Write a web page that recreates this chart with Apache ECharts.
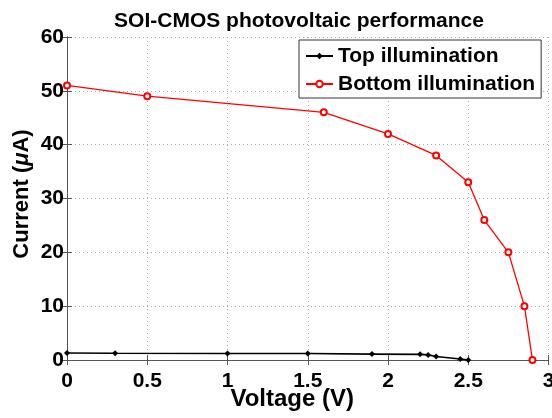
<!DOCTYPE html>
<html>
<head>
<meta charset="utf-8">
<script src="https://cdn.jsdelivr.net/npm/echarts@6/dist/echarts.min.js"></script>
<style>
  html, body { margin: 0; padding: 0; background: #fff; }
  #chart { width: 552px; height: 418px; }
</style>
</head>
<body>
<div id="chart"></div>
<script>
// voltage (V) / current (uA)
var topVoltage = [0, 0.3, 1.0, 1.5, 1.9, 2.2, 2.25, 2.3, 2.45, 2.5];
var topCurrent = [1.3, 1.25, 1.2, 1.2, 1.1, 1.05, 0.95, 0.65, 0.2, 0];
var bottomVoltage = [0, 0.5, 1.6, 2.0, 2.3, 2.5, 2.6, 2.75, 2.85, 2.9];
var bottomCurrent = [51, 49, 46, 42, 38, 33, 26, 20, 10, 0];

function pairs(xs, ys) {
  return xs.map(function (x, i) { return [x, ys[i]]; });
}

var chart = echarts.init(document.getElementById('chart'));
var font = 'Liberation Sans, Arial, sans-serif';
var gridLine = { show: true, lineStyle: { color: '#aaa', type: [1, 3], width: 1 } };
var boxAxis = { show: true, lineStyle: { color: '#555', width: 1 } };
var inTick = { inside: true, length: 5, lineStyle: { color: '#555' } };

chart.setOption({
  backgroundColor: '#fff',
  animation: false,
  title: {
    text: 'SOI-CMOS photovoltaic performance',
    left: 294, top: 6, textAlign: 'center',
    textStyle: { fontFamily: font, fontWeight: 'bold', fontSize: 21, color: '#000' }
  },
  legend: {
    left: 299, top: 40,
    orient: 'vertical',
    itemWidth: 27, itemHeight: 8, itemGap: 6,
    padding: [5, 6, 3, 6],
    borderColor: '#333', borderWidth: 1,
    backgroundColor: '#fff',
    textStyle: { fontFamily: font, fontSize: 21, lineHeight: 22, fontWeight: 'bold', color: '#000' },
    data: ['Top illumination', 'Bottom illumination']
  },
  grid: { left: 67, top: 37, right: 3.5, bottom: 58, containLabel: false, outerBoundsMode: 'none' },
  xAxis: [{
    type: 'value', min: 0, max: 3, interval: 0.5,
    name: 'Voltage (V)', nameLocation: 'middle', nameGap: 27, nameMoveOverlap: false,
    nameTextStyle: { fontFamily: font, fontWeight: 'bold', fontSize: 24, color: '#000', padding: [0, 31, 0, 0] },
    axisLine: boxAxis,
    axisTick: inTick,
    axisLabel: { fontFamily: font, fontWeight: 'bold', fontSize: 21, color: '#000', margin: 11 },
    splitLine: gridLine
  }, {
    type: 'value', position: 'top', min: 0, max: 3, interval: 0.5,
    axisLine: boxAxis,
    axisTick: inTick,
    axisLabel: { show: false }, splitLine: { show: false }
  }],
  yAxis: [{
    type: 'value', min: 0, max: 60, interval: 10,
    name: '{a|Current (}{b|μ}{a|A)}', nameLocation: 'middle', nameGap: 34, nameMoveOverlap: false,
    nameTextStyle: {
      padding: [0, 0, 0, 9],
      rich: {
        a: { fontFamily: font, fontWeight: 'bold', fontSize: 22, color: '#000' },
        b: { fontFamily: font, fontWeight: 'bold', fontStyle: 'italic', fontSize: 22, color: '#000' }
      }
    },
    axisLine: boxAxis,
    axisTick: inTick,
    axisLabel: { fontFamily: font, fontWeight: 'bold', fontSize: 21, color: '#000', margin: 3 },
    splitLine: gridLine
  }, {
    type: 'value', position: 'right', min: 0, max: 60, interval: 10,
    axisLine: boxAxis,
    axisTick: inTick,
    axisLabel: { show: false }, splitLine: { show: false }
  }],
  series: [{
    name: 'Top illumination',
    type: 'line',
    data: pairs(topVoltage, topCurrent),
    symbol: 'diamond', symbolSize: 6,
    color: '#000',
    lineStyle: { color: '#000', width: 1.6 },
    itemStyle: { color: '#000' }
  }, {
    name: 'Bottom illumination',
    type: 'line',
    data: pairs(bottomVoltage, bottomCurrent),
    symbol: 'emptyCircle', symbolSize: 6,
    color: '#f00',
    lineStyle: { color: '#f00', width: 1.3 },
    itemStyle: { color: '#f00', borderColor: '#f00', borderWidth: 1.2 }
  }]
});
</script>
</body>
</html>
